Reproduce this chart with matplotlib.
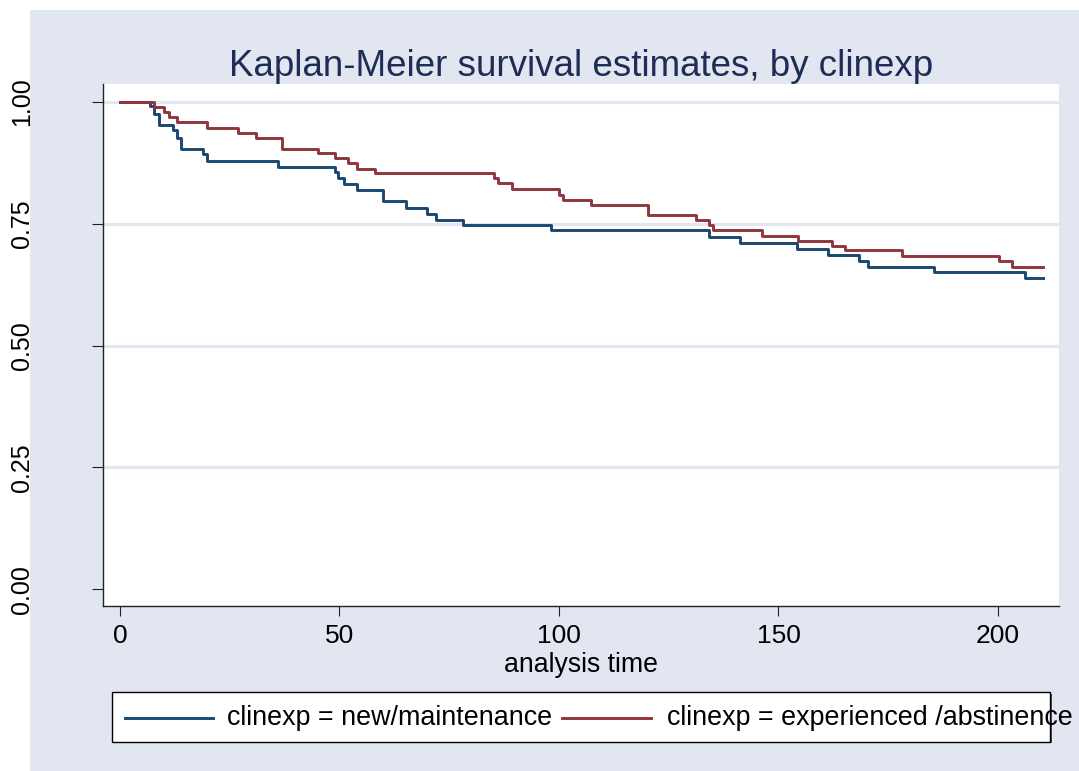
import matplotlib
matplotlib.use("Agg")
import matplotlib.pyplot as plt
from matplotlib.patches import Rectangle
from matplotlib.lines import Line2D

# ---- data ----
title = "Kaplan-Meier survival estimates, by clinexp"
xlabel = "analysis time"
labels = ["clinexp = new/maintenance", "clinexp = experienced /abstinence"]

t_new = [0, 6.8, 7.8, 9.0, 12.0, 13.0, 13.9, 18.9, 19.9, 36.1, 48.9, 49.7, 51.1,
         54.0, 60.0, 65.2, 70.0, 72.1, 78.2, 98.1, 134.1, 141.2, 154.2, 161.2,
         168.3, 170.4, 185.4, 206.2, 210.3]
s_new = [1.0, 0.992, 0.975, 0.953, 0.941, 0.926, 0.904, 0.893, 0.879, 0.867,
         0.855, 0.844, 0.831, 0.819, 0.796, 0.783, 0.770, 0.758, 0.747, 0.736,
         0.723, 0.710, 0.698, 0.686, 0.674, 0.662, 0.651, 0.638, 0.638]

t_exp = [0, 7.8, 10.0, 11.2, 13.0, 19.8, 26.9, 31.0, 36.9, 45.2, 49.0, 52.0, 54.0,
         58.2, 85.1, 86.0, 89.2, 100.1, 101.0, 107.2, 120.2, 131.1, 134.1, 135.0,
         146.2, 154.4, 162.1, 165.1, 178.1, 200.2, 203.2, 210.3]
s_exp = [1.0, 0.990, 0.978, 0.968, 0.958, 0.947, 0.936, 0.926, 0.904, 0.895,
         0.885, 0.874, 0.863, 0.853, 0.843, 0.833, 0.821, 0.809, 0.799, 0.789,
         0.768, 0.758, 0.747, 0.736, 0.725, 0.715, 0.705, 0.695, 0.683, 0.673,
         0.662, 0.662]

xticks = [0, 50, 100, 150, 200]
yticks = [0.0, 0.25, 0.5, 0.75, 1.0]
ytick_labels = ["0.00", "0.25", "0.50", "0.75", "1.00"]
grid_vals = [0.25, 0.5, 0.75, 1.0]

# ---- style ----
BG = "#E1E6F0"
BLUE = "#1A476F"
RED = "#90353B"
TITLE_C = "#1E2D55"
plt.rcParams['font.family'] = ['Liberation Sans', 'DejaVu Sans']

W, H = 1079, 771
fig = plt.figure(figsize=(W / 100, H / 100), dpi=100, facecolor="white")
fig.patches.append(Rectangle((30 / W, 0), 1 - 30 / W, 1 - 10 / H,
                             transform=fig.transFigure, facecolor=BG,
                             edgecolor="none", zorder=-10))

left, right = 103.3 / W, 1059 / W
bottom, top = (H - 605.7) / H, (H - 84.3) / H
ax = fig.add_axes([left, bottom, right - left, top - bottom])
ax.set_facecolor("white")

ax.set_xlim(-3.8, 213.9)
ax.set_ylim(-0.0336, 1.0357)

for g in grid_vals:
    ax.axhline(g, color=BG, lw=2.2, zorder=1)

ax.step(t_new, s_new, where="post", color=BLUE, lw=2.1, zorder=3)
ax.step(t_exp, s_exp, where="post", color=RED, lw=2.1, zorder=3)

for side in ["top", "right"]:
    ax.spines[side].set_visible(False)
for side in ["left", "bottom"]:
    ax.spines[side].set_linewidth(1.0)
    ax.spines[side].set_color("#222222")

ax.set_xticks(xticks)
ax.set_xticklabels([str(x) for x in xticks])
ax.set_yticks(yticks)
ax.set_yticklabels(ytick_labels)
ax.tick_params(axis="x", length=7.2, width=0.8, pad=6, labelsize=19, color="#222222")
ax.tick_params(axis="y", length=8, width=0.8, pad=42, labelsize=18, color="#222222",
               labelrotation=90)
for lab in ax.get_yticklabels():
    lab.set_va("center")
    lab.set_ha("right")

ax.set_xlabel(xlabel, fontsize=19.2, labelpad=2.5)
ax.set_title(title, fontsize=26.5, color=TITLE_C, pad=5)

# ---- legend (drawn manually, text overflows the box like the reference) ----
lx0, lx1 = 112 / W, 1050 / W
ly0, ly1 = (H - 741.7) / H, (H - 692.3) / H
fig.patches.append(Rectangle((lx0 + 1.5 / W, ly0 - 1.5 / H), lx1 - lx0, ly1 - ly0,
                             transform=fig.transFigure, facecolor="#555555",
                             edgecolor="none", zorder=1))
fig.patches.append(Rectangle((lx0, ly0), lx1 - lx0, ly1 - ly0,
                             transform=fig.transFigure, facecolor="white",
                             edgecolor="black", lw=1.0, zorder=2))
ly = (H - 717.7) / H
for (xa, xb, xt), col, lab in zip([(125, 213, 227), (562, 651, 667)], [BLUE, RED], labels):
    fig.add_artist(Line2D([xa / W, xb / W], [ly, ly], transform=fig.transFigure,
                          color=col, lw=2.1, zorder=3))
    fig.text(xt / W, ly, lab, fontsize=19.4, va="center", ha="left", zorder=4)

fig.savefig("out.png", dpi=100, facecolor=fig.get_facecolor())
